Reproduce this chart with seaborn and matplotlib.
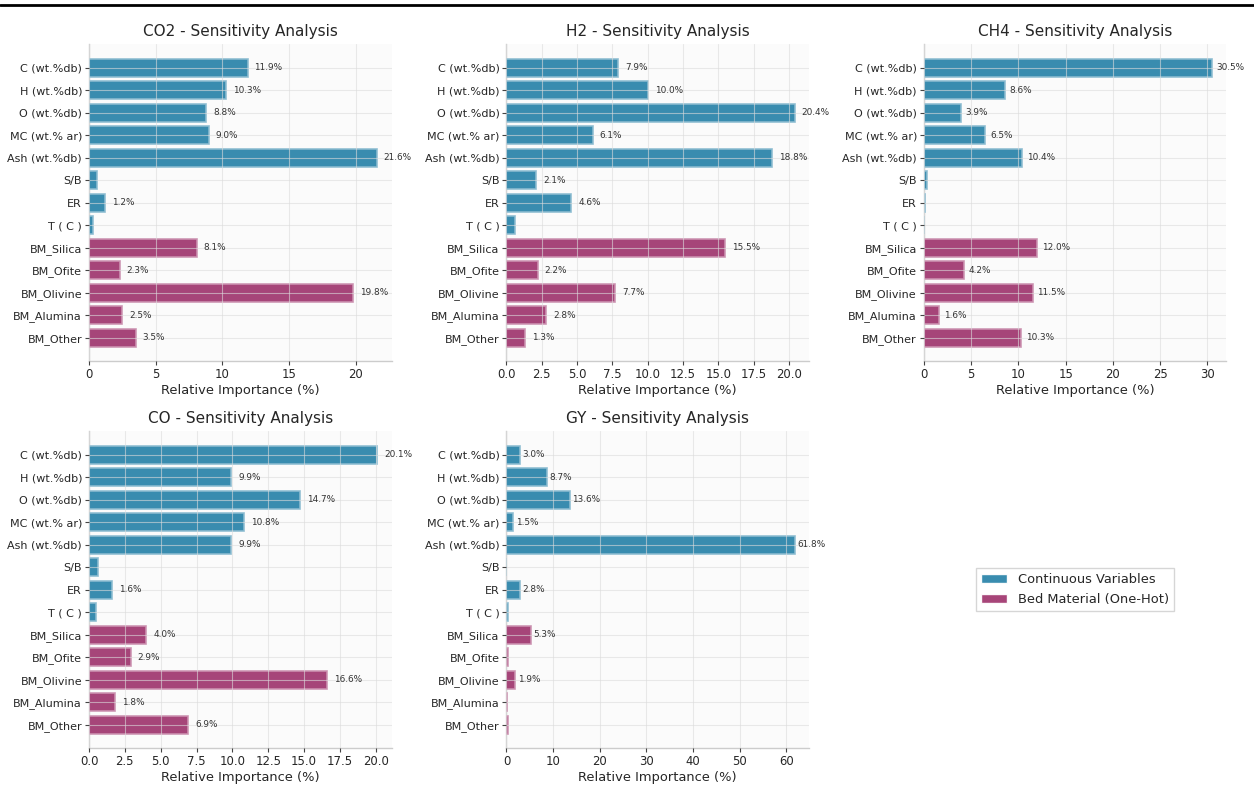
import numpy as np
import pandas as pd
import matplotlib
matplotlib.use('Agg')
import matplotlib.pyplot as plt
import seaborn as sns
from matplotlib.patches import Patch
from matplotlib.lines import Line2D
from matplotlib.ticker import MaxNLocator
from matplotlib.colors import to_rgb

# ==========================================
# Data
# ==========================================
FEATURES = ['C (wt.%db)', 'H (wt.%db)', 'O (wt.%db)', 'MC (wt.% ar)', 'Ash (wt.%db)',
            'S/B', 'ER', 'T ( C )',
            'BM_Silica', 'BM_Ofite', 'BM_Olivine', 'BM_Alumina', 'BM_Other']
FEATURE_TYPE = ['Continuous Variables'] * 8 + ['Bed Material (One-Hot)'] * 5

TARGETS = ['CO2', 'H2', 'CH4', 'CO', 'GY']

co2_imp = [11.9, 10.3, 8.8, 9.0, 21.6, 0.6, 1.2, 0.3, 8.1, 2.3, 19.8, 2.5, 3.5]
h2_imp = [7.9, 10.0, 20.4, 6.1, 18.8, 2.1, 4.6, 0.6, 15.5, 2.2, 7.7, 2.8, 1.3]
ch4_imp = [30.5, 8.6, 3.9, 6.5, 10.4, 0.3, 0.15, 0.05, 12.0, 4.2, 11.5, 1.6, 10.3]
co_imp = [20.1, 9.9, 14.7, 10.8, 9.9, 0.6, 1.6, 0.5, 4.0, 2.9, 16.6, 1.8, 6.9]
gy_imp = [3.0, 8.7, 13.6, 1.5, 61.8, 0.0, 2.8, 0.4, 5.3, 0.3, 1.9, 0.2, 0.3]

IMPORTANCES = [co2_imp, h2_imp, ch4_imp, co_imp, gy_imp]

COLORS = {
    'Continuous Variables': '#2E86AB',
    'Bed Material (One-Hot)': '#A23B72'
}

# ==========================================
# Plot
# ==========================================
sns.set_style('whitegrid')
plt.rcParams['font.family'] = ['DejaVu Sans']

fig, axes = plt.subplots(2, 3, figsize=(12.54, 7.91), dpi=100)
fig.subplots_adjust(left=0.071, right=0.978, bottom=0.054, top=0.944,
                    wspace=0.38, hspace=0.22)
axes = axes.flatten()

for i, (target, imp) in enumerate(zip(TARGETS, IMPORTANCES)):
    ax = axes[i]
    df = pd.DataFrame({'Feature': FEATURES, 'Importance': imp, 'Type': FEATURE_TYPE})
    ax.set_facecolor('#fbfbfb')
    sns.barplot(data=df, y='Feature', x='Importance', hue='Type', palette=COLORS,
                dodge=False, orient='h', width=0.8, saturation=1, alpha=0.95,
                linewidth=1.2, legend=False, ax=ax)

    # lighter outline of each bar's own colour
    for p in ax.patches:
        fc = np.array(p.get_facecolor()[:3])
        p.set_edgecolor(tuple(fc + (1 - fc) * 0.45))

    for j, v in enumerate(imp):
        if v > 1.0:
            ax.text(v + 0.5, j, f'{v:.1f}%', va='center', ha='left',
                    fontsize=6.4, color='#333333')

    ax.set_xlim(0, max(imp) * 1.05)
    ax.set_ylim(len(FEATURES) - 1 + 1.04, -1.04)
    ax.xaxis.set_major_locator(MaxNLocator(nbins=9, steps=[1, 2, 2.5, 5, 10]))
    ax.set_title(f'{target} - Sensitivity Analysis', fontsize=11, pad=6)
    ax.set_xlabel('Relative Importance (%)', fontsize=9.4, labelpad=2)
    ax.set_ylabel('')
    ax.tick_params(axis='both', left=True, bottom=True, length=3, width=0.8,
                   color='#444444', pad=2)
    ax.tick_params(axis='y', labelsize=8)
    ax.tick_params(axis='x', labelsize=8.4)
    ax.grid(True, color='#dcdcdc', linewidth=0.8, alpha=0.6)
    ax.set_axisbelow(False)
    sns.despine(ax=ax)
    for side in ['left', 'bottom']:
        ax.spines[side].set_color('#cccccc')
        ax.spines[side].set_linewidth(1.0)
        ax.spines[side].set_zorder(0.5)

# Legend in the empty sixth panel
axes[5].axis('off')
handles = [Patch(facecolor=COLORS[k], alpha=0.95, label=k) for k in COLORS]
axes[5].legend(handles=handles, loc='center', fontsize=9.4, frameon=True,
               edgecolor='#cccccc', fancybox=False)

# thin black rule across the top
fig.add_artist(Line2D([0, 1], [0.9937, 0.9937], color='black', linewidth=2,
                      transform=fig.transFigure))

plt.savefig('out.png', dpi=100)
